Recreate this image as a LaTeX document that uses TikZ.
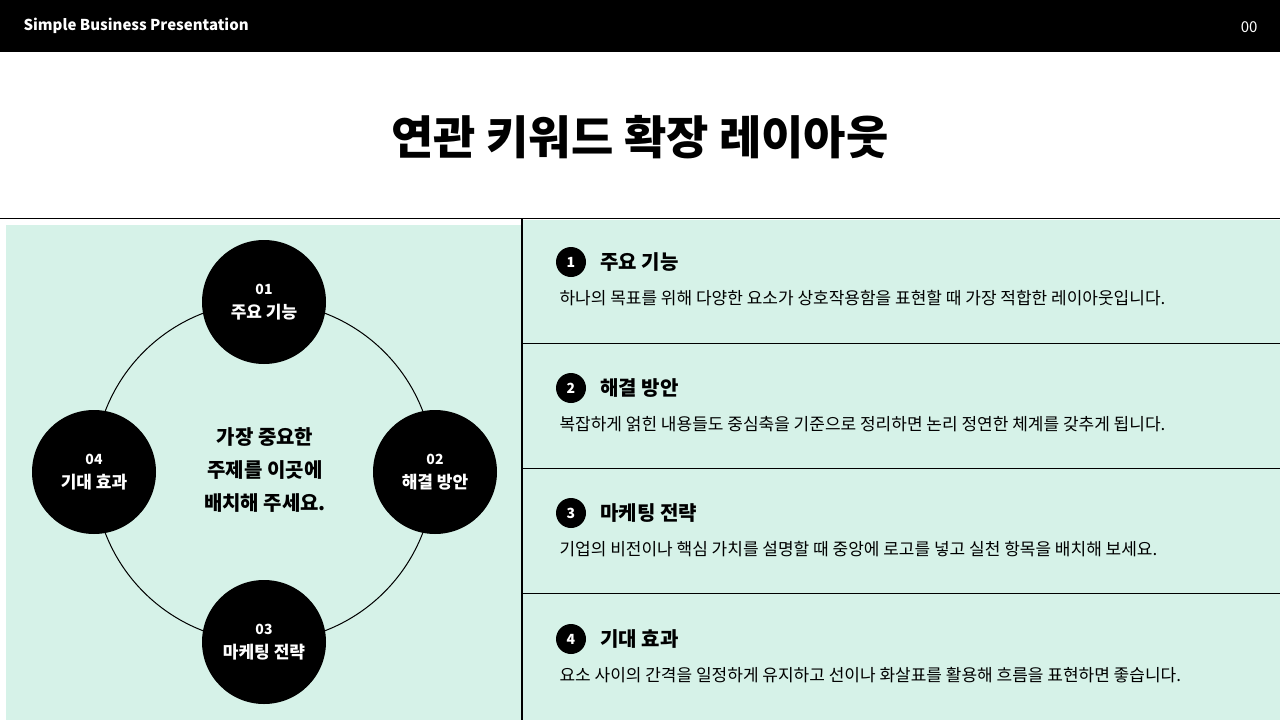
\documentclass[tikz,border=0pt]{standalone}
\usepackage{fontspec}
\setmainfont{Noto Sans CJK KR}
\definecolor{mint}{HTML}{D6F2E8}
\begin{document}
\begin{tikzpicture}[x=1pt,y=-1pt,
  bigc/.style={circle,fill=black,minimum size=124pt,inner sep=0pt,text=white,align=center,font=\fontsize{17}{20}\selectfont\bfseries},
  num/.style={circle,fill=black,minimum size=30pt,inner sep=0pt,text=white,font=\fontsize{14}{14}\selectfont\bfseries},
  head/.style={anchor=west,font=\fontsize{20}{24}\selectfont\bfseries},
  body/.style={anchor=west,font=\fontsize{17}{20}\selectfont}]
\useasboundingbox (0,0) rectangle (1280,720);
\fill[white] (0,0) rectangle (1280,720);
\fill[black] (0,0) rectangle (1280,52);
\node[anchor=west,text=white,font=\fontsize{15}{18}\selectfont\bfseries] (brand) at (20,26) {Simple Business Presentation};
\node[anchor=east,text=white,font=\fontsize{15}{18}\selectfont] (pg) at (1261,27) {00};
\node[font=\fontsize{46}{50}\selectfont\bfseries] (title) at (640,137) {연관 키워드 확장 레이아웃};
\fill[mint] (6,225) rectangle (521,720);
\fill[mint] (523,220) rectangle (1280,720);
\draw[line width=1.3pt] (0,218.5) -- (1280,218.5);
\draw[line width=1.3pt] (522,218) -- (522,720);
\foreach \y in {343.5,468.5,593.5} \draw[line width=1.3pt] (522,\y) -- (1280,\y);
\node[circle,draw,line width=1pt,minimum size=340pt,inner sep=0pt] (ring) at (264,472) {};
\node[bigc] (c1) at (264,302) {{\fontsize{14}{16}\selectfont 01}\\[4pt]주요 기능};
\node[bigc] (c2) at (435,472) {{\fontsize{14}{16}\selectfont 02}\\[4pt]해결 방안};
\node[bigc] (c3) at (264,642) {{\fontsize{14}{16}\selectfont 03}\\[4pt]마케팅 전략};
\node[bigc] (c4) at (94,472) {{\fontsize{14}{16}\selectfont 04}\\[4pt]기대 효과};
\node[align=center,font=\fontsize{20}{33}\selectfont\bfseries] (center) at (265,470) {가장 중요한\\주제를 이곳에\\배치해 주세요.};
\foreach \i/\y/\h/\b in {1/262/주요 기능/하나의 목표를 위해 다양한 요소가 상호작용함을 표현할 때 가장 적합한 레이아웃입니다.,
  2/388/해결 방안/복잡하게 얽힌 내용들도 중심축을 기준으로 정리하면 논리 정연한 체계를 갖추게 됩니다.,
  3/513/마케팅 전략/기업의 비전이나 핵심 가치를 설명할 때 중앙에 로고를 넣고 실천 항목을 배치해 보세요.,
  4/639/기대 효과/요소 사이의 간격을 일정하게 유지하고 선이나 화살표를 활용해 흐름을 표현하면 좋습니다.}{
  \node[num] (n\i) at (571,\y) {\i};
  \node[head] (h\i) at (597,\y) {\h};
  \node[body] (b\i) at (556,\y+36) {\b};
}
\end{tikzpicture}
\end{document}
